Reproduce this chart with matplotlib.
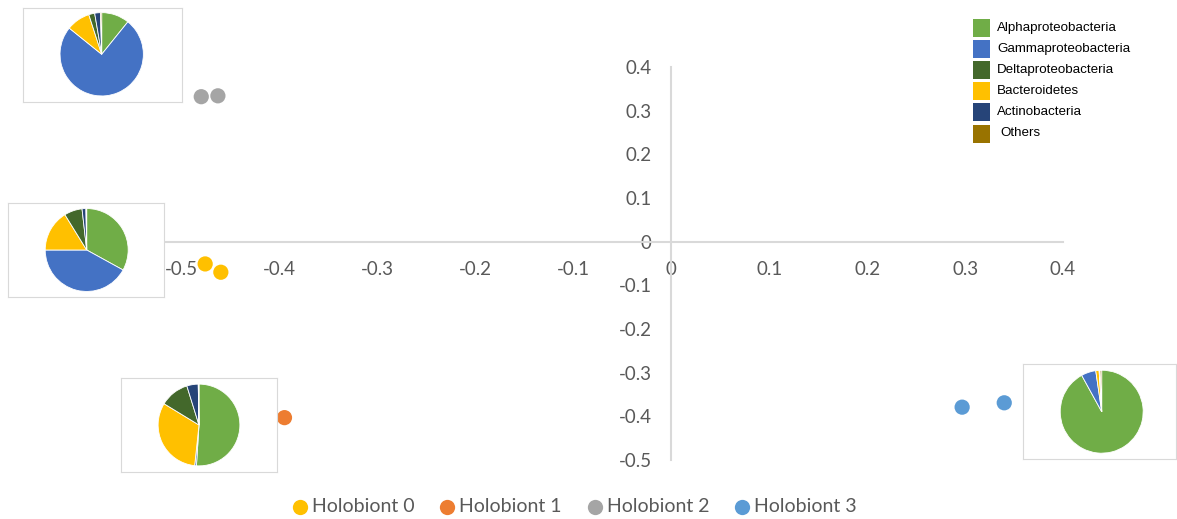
import matplotlib
matplotlib.use("Agg")
import matplotlib.pyplot as plt
from matplotlib.patches import Rectangle
from matplotlib.lines import Line2D

plt.rcParams['axes.unicode_minus'] = False

# ---------------- data ----------------
groups = ["Holobiont 0", "Holobiont 1", "Holobiont 2", "Holobiont 3"]
group_colors = ["#FFC000", "#ED7D31", "#A5A5A5", "#5B9BD5"]
h0_x = [-0.476, -0.460]
h0_y = [-0.051, -0.070]
h1_x = [-0.395]
h1_y = [-0.403]
h2_x = [-0.480, -0.463]
h2_y = [0.332, 0.334]
h3_x = [0.297, 0.340]
h3_y = [-0.379, -0.369]

x_ticks = [-0.5, -0.4, -0.3, -0.2, -0.1, 0, 0.1, 0.2, 0.3, 0.4]
y_ticks = [-0.5, -0.4, -0.3, -0.2, -0.1, 0, 0.1, 0.2, 0.3, 0.4]

taxa_legend = ["Alphaproteobacteria", "Gammaproteobacteria", "Deltaproteobacteria",
               "Bacteroidetes", "Actinobacteria", "Others"]
taxa_colors = {"Alphaproteobacteria": "#70AD47", "Gammaproteobacteria": "#4472C4",
               "Deltaproteobacteria": "#43682B", "Bacteroidetes": "#FFC000",
               "Actinobacteria": "#264478", "Others": "#997300"}
# slice order in the pies (clockwise from 12 o'clock)
pie_order = ["Alphaproteobacteria", "Gammaproteobacteria", "Bacteroidetes",
             "Deltaproteobacteria", "Actinobacteria", "Others"]
pie_h2 = [10.8, 75.0, 9.2, 2.3, 2.2, 0.5]   # top-left
pie_h0 = [33.0, 42.0, 16.2, 7.0, 1.5, 0.3]   # middle-left
pie_h1 = [51.0, 0.7, 32.0, 11.5, 4.5, 0.3]   # lower-left
pie_h3 = [92.0, 5.7, 1.3, 0.2, 0.2, 0.6]     # lower-right

# ---------------- figure ----------------
W, H = 1177, 519
fig = plt.figure(figsize=(W / 100, H / 100), dpi=100)
fig.patch.set_facecolor("white")

def px_rect(x0, y0, x1, y1):
    return [x0 / W, 1 - y1 / H, (x1 - x0) / W, (y1 - y0) / H]

def fx(x):
    return x / W

def fy(y):
    return 1 - y / H

ax = fig.add_axes(px_rect(166, 67, 1063, 460))
ax.set_xlim(-0.516, 0.4)
ax.set_ylim(-0.5, 0.4)
for s in ["top", "right"]:
    ax.spines[s].set_visible(False)
for s in ["left", "bottom"]:
    ax.spines[s].set_position(("data", 0))
    ax.spines[s].set_color("#D9D9D9")
    ax.spines[s].set_linewidth(1.5)
ax.set_xticks(x_ticks)
ax.set_yticks(y_ticks)
ax.set_xticklabels([f"{v:g}" for v in x_ticks])
ax.set_yticklabels([f"{v:g}" for v in y_ticks])
ax.tick_params(axis="x", length=0, pad=14, labelsize=13.5, labelcolor="#595959")
ax.tick_params(axis="y", length=0, pad=14, labelsize=13.5, labelcolor="#595959")
for lab in ax.get_xticklabels() + ax.get_yticklabels():
    lab.set_fontfamily("Lato")

series = [(h0_x, h0_y), (h1_x, h1_y), (h2_x, h2_y), (h3_x, h3_y)]
for (xs, ys), c in zip(series, group_colors):
    ax.scatter(xs, ys, s=120, color=c, edgecolors="none", zorder=5, clip_on=False)

# bottom legend (drawn manually)
for i, (g, c) in enumerate(zip(groups, group_colors)):
    mx = 300 + 147.3 * i
    fig.add_artist(Line2D([fx(mx)], [fy(507)], marker="o", markersize=11,
                          markerfacecolor=c, markeredgecolor="none",
                          linestyle="none", transform=fig.transFigure))
    fig.text(fx(mx + 12), fy(507), g, ha="left", va="center",
             fontfamily="Lato", fontsize=14, color="#595959")

# top-right taxa legend (drawn manually)
for i, t in enumerate(taxa_legend):
    cy = 27.5 + 21.2 * i
    fig.add_artist(Rectangle((fx(973), fy(cy + 9)), 17 / W, 18 / H,
                             facecolor=taxa_colors[t], edgecolor="none",
                             transform=fig.transFigure))
    tx = 1000 if t == "Others" else 997
    fig.text(fx(tx), fy(cy), t, ha="left", va="center",
             fontfamily="Liberation Sans", fontsize=9.6, color="#000000")

# pie insets
insets = [
    (pie_h2, (23, 8, 182, 102), (101.7, 54.3), 42.5),
    (pie_h0, (8, 203, 164, 297), (86.7, 250.0), 42.3),
    (pie_h1, (121, 378, 277, 472), (199.0, 425.0), 41.7),
    (pie_h3, (1023, 364, 1176, 459), (1101.7, 411.7), 42.3),
]
for vals, box, (cx, cy), r in insets:
    bax = fig.add_axes(px_rect(*box))
    bax.set_xticks([])
    bax.set_yticks([])
    bax.set_facecolor("white")
    for s in bax.spines.values():
        s.set_color("#D9D9D9")
        s.set_linewidth(0.8)
    pax = fig.add_axes(px_rect(cx - r, cy - r, cx + r, cy + r))
    pax.pie(vals, colors=[taxa_colors[t] for t in pie_order], startangle=90,
            counterclock=False, radius=1,
            wedgeprops={"edgecolor": "white", "linewidth": 0.6})
    pax.set_xlim(-1.02, 1.02)
    pax.set_ylim(-1.02, 1.02)
    pax.set_aspect("equal")
    pax.axis("off")

fig.savefig("out.png", dpi=100)
